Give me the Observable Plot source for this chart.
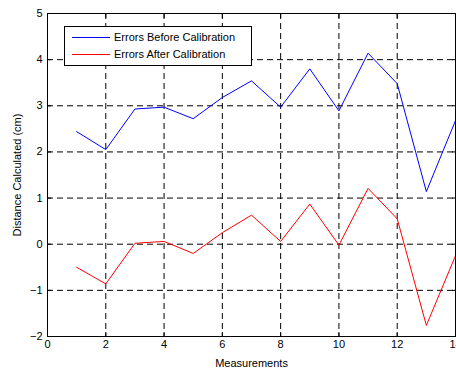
<!DOCTYPE html>
<html>
<head>
<meta charset="utf-8">
<script src="https://cdn.jsdelivr.net/npm/d3@7"></script>
<script src="https://cdn.jsdelivr.net/npm/@observablehq/plot@0.6"></script>
<style>
  html, body { margin: 0; padding: 0; background: #fff; }
  #wrap { position: relative; width: 456px; height: 369px; }
</style>
</head>
<body>
<div id="wrap"></div>
<script>
const measurements = [1,2,3,4,5,6,7,8,9,10,11,12,13,14];
const errorsBefore = [2.44,2.05,2.93,2.97,2.72,3.18,3.54,2.97,3.80,2.89,4.14,3.48,1.14,2.68];
const errorsAfter  = [-0.50,-0.86,0.02,0.06,-0.20,0.25,0.63,0.06,0.87,-0.02,1.21,0.55,-1.76,-0.25];
const seriesNames = ["Errors Before Calibration", "Errors After Calibration"];
const seriesColors = ["#0000ff", "#ff0000"];
const xTicks = [0,2,4,6,8,10,12,14];
const yTicks = [-2,-1,0,1,2,3,4,5];

const data = [];
measurements.forEach((m, i) => {
  data.push({x: m, y: errorsBefore[i], s: seriesNames[0]});
  data.push({x: m, y: errorsAfter[i], s: seriesNames[1]});
});

const chart = Plot.plot({
  width: 456,
  height: 369,
  marginLeft: 47,
  marginRight: 1,
  marginTop: 13,
  marginBottom: 33,
  style: {fontFamily: "Liberation Sans, Arial, sans-serif", fontSize: "11px", color: "#000", background: "#fff"},
  x: {domain: [0, 14]},
  y: {domain: [-2, 5]},
  color: {domain: seriesNames, range: seriesColors},
  marks: [
    Plot.gridX(xTicks.slice(1, -1), {stroke: "#000", strokeOpacity: 1, strokeDasharray: "6,4"}),
    Plot.gridY(yTicks.slice(1, -1), {stroke: "#000", strokeOpacity: 1, strokeDasharray: "6,4"}),
    Plot.axisX(xTicks, {anchor: "bottom", tickSize: 4, dy: -4, text: null, label: null, stroke: "#000"}),
    Plot.axisX(xTicks, {anchor: "top", tickSize: 4, dy: 4, text: null, label: null, stroke: "#000"}),
    Plot.axisY(yTicks, {anchor: "left", tickSize: 4, dx: 4, text: null, label: null, stroke: "#000"}),
    Plot.axisY(yTicks, {anchor: "right", tickSize: 4, dx: -4, text: null, label: null, stroke: "#000"}),
    Plot.axisX(xTicks, {anchor: "bottom", tickSize: 0, tickPadding: 4, fontSize: 11, label: "Measurements", labelAnchor: "center", labelArrow: "none", labelOffset: 30}),
    Plot.axisY(yTicks, {anchor: "left", tickSize: 0, tickPadding: 5, fontSize: 11, label: "Distance Calculated (cm)", labelAnchor: "center", labelArrow: "none", labelOffset: 34}),
    Plot.line(data, {x: "x", y: "y", z: "s", stroke: "s", strokeWidth: 1}),
    Plot.frame({stroke: "#000", strokeWidth: 1})
  ]
});
const wrap = document.getElementById("wrap");
wrap.appendChild(chart);

// legend drawn into the SVG
const svg = d3.select(chart);
const lg = svg.append("g")
  .attr("font-family", "Liberation Sans, Arial, sans-serif")
  .attr("font-size", 11)
  .attr("text-anchor", "start");
lg.append("rect").attr("x", 64.5).attr("y", 26.5).attr("width", 187).attr("height", 39)
  .attr("fill", "#fff").attr("stroke", "#000").attr("stroke-width", 1);
seriesNames.forEach((name, i) => {
  const yy = 37.5 + i * 17;
  lg.append("line").attr("x1", 72).attr("x2", 110).attr("y1", yy).attr("y2", yy)
    .attr("stroke", seriesColors[i]).attr("stroke-width", 1).attr("stroke-dasharray", "none");
  lg.append("text").attr("x", 114).attr("y", yy).attr("dy", "0.35em")
    .attr("text-anchor", "start").attr("fill", "#000").text(name);
});
</script>
</body>
</html>
